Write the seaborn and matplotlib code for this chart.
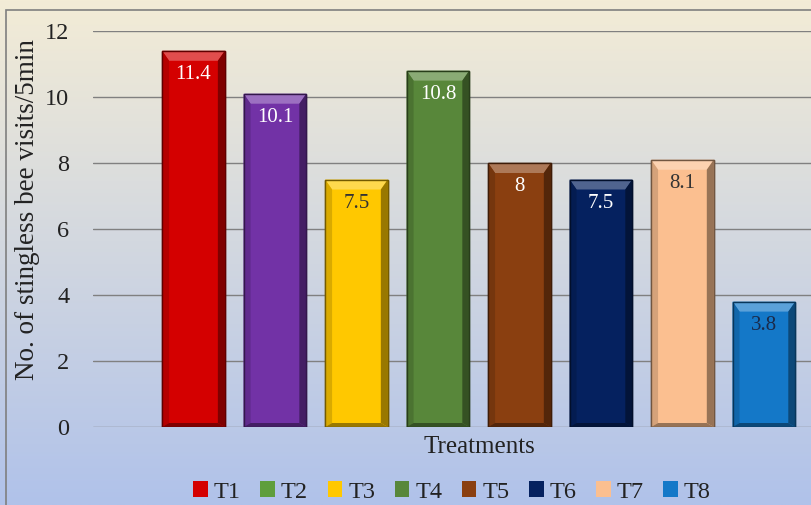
import numpy as np
import pandas as pd
import matplotlib
matplotlib.use("Agg")
import matplotlib.pyplot as plt
import matplotlib.colors as mcolors
from matplotlib.patches import Patch, Polygon, Rectangle
import seaborn as sns

treatments = ["T1", "T2", "T3", "T4", "T5", "T6", "T7", "T8"]
visits = [11.4, 10.1, 7.5, 10.8, 8.0, 7.5, 8.1, 3.8]
value_labels = ["11.4", "10.1", "7.5", "10.8", "8", "7.5", "8.1", "3.8"]
bar_colors = ["#d40000", "#7232a6", "#ffc800", "#58873a", "#8a3f10", "#05215f", "#fbbf90", "#1478c8"]
legend_colors = ["#d40000", "#5f9e3c", "#ffc800", "#58873a", "#8a3f10", "#05215f", "#fbbf90", "#1478c8"]
label_colors = ["white", "white", "#333333", "white", "white", "white", "#333333", "#1a2a4a"]
y_ticks = [0, 2, 4, 6, 8, 10, 12]

df = pd.DataFrame({"Treatment": treatments, "Visits": visits})

sns.set_theme(style="white")
plt.rcParams["font.family"] = ["Liberation Serif", "DejaVu Serif"]

fig = plt.figure(figsize=(8.12, 5.05), dpi=100)

# gradient background
bg = fig.add_axes([0, 0, 1, 1], zorder=-10)
top = np.array([243, 236, 214]) / 255
bot = np.array([176, 194, 234]) / 255
t = np.linspace(0, 1, 256)[:, None]
grad = top[None, :] * (1 - t) + bot[None, :] * t
bg.imshow(grad[:, None, :].repeat(2, axis=1), aspect="auto", extent=[0, 1, 0, 1])
bg.set_axis_off()
fig.patches.append(Rectangle((6 / 812, -0.1), 1.2, (505 - 10) / 505 + 0.1, transform=fig.transFigure,
                             fill=False, edgecolor="#7f7f7f", linewidth=1.2))

ax = fig.add_axes([93 / 812, (505 - 427) / 505, (812 - 93) / 812, 396 / 505])
ax.patch.set_alpha(0)

sns.barplot(data=df, x="Treatment", y="Visits", hue="Treatment", palette=bar_colors,
            dodge=False, legend=False, width=0.77, ax=ax, zorder=3, saturation=1)

ax.set_xlim(-1.233, 7.59)
ax.set_ylim(0, 12)
ax.set_yticks(y_ticks)
ax.set_yticklabels([str(v) for v in y_ticks], fontsize=17.5, color="#222222")
ax.set_xticks([])
ax.tick_params(axis="y", length=0, pad=17)
ax.yaxis.grid(True, color="#808080", linewidth=1.0, zorder=0)
ax.set_axisbelow(True)
for s in ax.spines.values():
    s.set_visible(False)

ax.set_ylabel("No. of stingless bee visits/5min", fontsize=19.5, color="#222222")
ax.yaxis.set_label_coords(-53 / 719, 0.548)
ax.set_xlabel("Treatments", fontsize=18, color="#222222")
ax.xaxis.set_label_coords(0.538, -0.022)

# bevel decoration on bars
bx = 7 / 81.5
by = 10 / 33.0
for i, p in enumerate(ax.patches):
    x0 = p.get_x(); w = p.get_width(); h = p.get_height()
    c = np.array(mcolors.to_rgb(bar_colors[i]))
    light = c + (1 - c) * 0.3
    dark = c * 0.6
    p.set_edgecolor(tuple(c * 0.45))
    p.set_linewidth(1.0)
    ax.add_patch(Polygon([[x0, h], [x0 + w, h], [x0 + w - bx, h - by], [x0 + bx, h - by]],
                         closed=True, facecolor=light, edgecolor="none", zorder=4))
    ax.add_patch(Polygon([[x0, 0], [x0 + bx, by * 0.4], [x0 + bx, h - by], [x0, h]],
                         closed=True, facecolor=tuple(c * 0.85), edgecolor="none", zorder=4))
    ax.add_patch(Polygon([[x0 + w, 0], [x0 + w - bx, by * 0.4], [x0 + w - bx, h - by], [x0 + w, h]],
                         closed=True, facecolor=dark, edgecolor="none", zorder=4))
    ax.add_patch(Polygon([[x0, 0], [x0 + w, 0], [x0 + w - bx, by * 0.4], [x0 + bx, by * 0.4]],
                         closed=True, facecolor=dark, edgecolor="none", zorder=4))
    ax.add_patch(Rectangle((x0, 0), w, h, fill=False, edgecolor=tuple(c * 0.45), linewidth=1.0, zorder=5))
    ax.text(x0 + w / 2, h - 0.72, value_labels[i], ha="center", va="center",
            fontsize=15, color=label_colors[i], zorder=6)

handles = [Patch(facecolor=legend_colors[i], edgecolor="none", label=treatments[i]) for i in range(len(treatments))]
fig.legend(handles=handles, loc="center", bbox_to_anchor=(452 / 812, 1 - 492 / 505), ncol=8,
           frameon=False, fontsize=17.5, handlelength=0.6, handleheight=0.6, handletextpad=0.25,
           columnspacing=0.8, labelcolor="#222222")

fig.savefig("out.png", dpi=100)
